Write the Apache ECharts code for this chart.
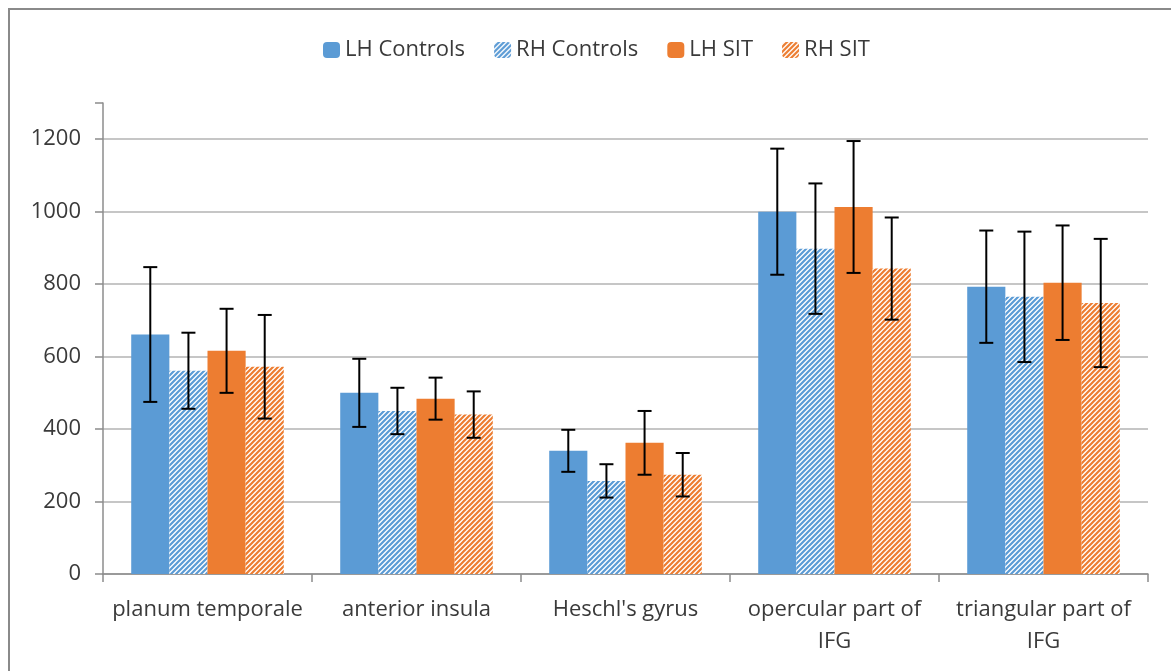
<!DOCTYPE html>
<html>
<head>
<meta charset="utf-8">
<script src="https://cdn.jsdelivr.net/npm/echarts@6/dist/echarts.min.js"></script>
<style>
html,body{margin:0;padding:0;background:#fff;}
#chart{width:1171px;height:671px;}
</style>
</head>
<body>
<div id="chart"></div>
<script>
const categories = ['planum temporale', 'anterior insula', "Heschl's gyrus", 'opercular part of IFG', 'triangular part of IFG'];
const seriesNames = ['LH Controls', 'RH Controls', 'LH SIT', 'RH SIT'];
const lhControls = [661, 500, 340, 1000, 793];
const lhControlsErr = [186, 94, 58, 174, 155];
const rhControls = [561, 450, 257, 898, 765];
const rhControlsErr = [105, 64, 46, 180, 180];
const lhSit = [616, 484, 362, 1013, 804];
const lhSitErr = [116, 58, 88, 182, 158];
const rhSit = [572, 440, 274, 843, 748];
const rhSitErr = [143, 64, 60, 141, 177];
const yTicks = [0, 200, 400, 600, 800, 1000, 1200];

const BLUE = '#5B9BD5';
const ORANGE = '#ED7D31';
const TEXT = '#3a3a3a';

function hatch(color) {
  const n = 5;
  const c = document.createElement('canvas');
  c.width = n; c.height = n;
  const ctx = c.getContext('2d');
  ctx.fillStyle = '#ffffff';
  ctx.fillRect(0, 0, n, n);
  ctx.strokeStyle = color;
  ctx.lineWidth = 2.2;
  ctx.beginPath();
  ctx.moveTo(-1, n + 1); ctx.lineTo(n + 1, -1);
  ctx.moveTo(-1, 1); ctx.lineTo(1, -1);
  ctx.moveTo(n - 1, n + 1); ctx.lineTo(n + 1, n - 1);
  ctx.stroke();
  return { image: c, repeat: 'repeat' };
}

const values = [lhControls, rhControls, lhSit, rhSit];
const errors = [lhControlsErr, rhControlsErr, lhSitErr, rhSitErr];
const fills = [BLUE, hatch(BLUE), ORANGE, hatch(ORANGE)];
const CAT_GAP = 0.27;

const series = [];
values.forEach((vals, i) => {
  series.push({
    name: seriesNames[i],
    type: 'bar',
    data: vals,
    barGap: '0%',
    barCategoryGap: (CAT_GAP * 100) + '%',
    itemStyle: { color: fills[i] },
    emphasis: { disabled: true },
    z: 2
  });
});
values.forEach((vals, i) => {
  series.push({
    name: seriesNames[i] + ' err',
    type: 'custom',
    data: vals.map((v, k) => [k, v - errors[i][k], v + errors[i][k]]),
    z: 5,
    silent: true,
    renderItem: function (params, api) {
      const k = api.value(0);
      const lo = api.coord([k, api.value(1)]);
      const hi = api.coord([k, api.value(2)]);
      const catW = api.size([1, 0])[0];
      const barW = catW * (1 - CAT_GAP) / 4;
      const x = lo[0] + (i - 1.5) * barW;
      const cap = 7;
      const style = { stroke: '#000', lineWidth: 2, fill: null };
      return {
        type: 'group',
        children: [
          { type: 'line', shape: { x1: x, y1: hi[1], x2: x, y2: lo[1] }, style: style },
          { type: 'line', shape: { x1: x - cap, y1: hi[1], x2: x + cap, y2: hi[1] }, style: style },
          { type: 'line', shape: { x1: x - cap, y1: lo[1], x2: x + cap, y2: lo[1] }, style: style }
        ]
      };
    }
  });
});

const chart = echarts.init(document.getElementById('chart'), null, { renderer: 'canvas' });
chart.setOption({
  animation: false,
  backgroundColor: '#ffffff',
  textStyle: { fontFamily: 'Open Sans' },
  graphic: [{
    type: 'rect',
    shape: { x: 9, y: 9, width: 2000, height: 2000 },
    style: { stroke: '#8a8a8a', lineWidth: 2, fill: null },
    silent: true
  }],
  legend: {
    data: seriesNames,
    left: 318,
    top: 34,
    itemWidth: 17,
    itemHeight: 16,
    itemGap: 29,
    textStyle: { fontSize: 22, color: TEXT, fontFamily: 'Open Sans' },
    selectedMode: false
  },
  grid: { left: 103, right: 23, top: 103, bottom: 97, containLabel: false },
  xAxis: {
    type: 'category',
    data: categories,
    axisLine: { lineStyle: { color: '#8c8c8c', width: 1.5 } },
    axisTick: { show: true, length: 8, lineStyle: { color: '#8c8c8c', width: 1.5 } },
    axisLabel: {
      color: TEXT,
      fontSize: 22,
      fontFamily: 'Open Sans',
      margin: 20,
      lineHeight: 32,
      interval: 0,
      formatter: v => v.replace(' IFG', '\nIFG')
    },
    splitLine: { show: false }
  },
  yAxis: {
    type: 'value',
    min: 0,
    max: 1300,
    interval: 200,
    axisLine: { show: true, lineStyle: { color: '#8c8c8c', width: 1.5 } },
    axisTick: { show: true, length: 8, lineStyle: { color: '#8c8c8c', width: 1.5 } },
    axisLabel: {
      color: TEXT,
      fontSize: 22,
      fontFamily: 'Open Sans',
      margin: 22,
      formatter: v => (yTicks.indexOf(v) >= 0 ? String(v) : '')
    },
    splitLine: {
      show: true,
      lineStyle: {
        color: ['#b3b3b3', '#b3b3b3', '#b3b3b3', '#b3b3b3', '#b3b3b3', '#b3b3b3', '#b3b3b3', 'rgba(0,0,0,0)'],
        width: 1.5
      }
    }
  },
  series: series
});
</script>
</body>
</html>
